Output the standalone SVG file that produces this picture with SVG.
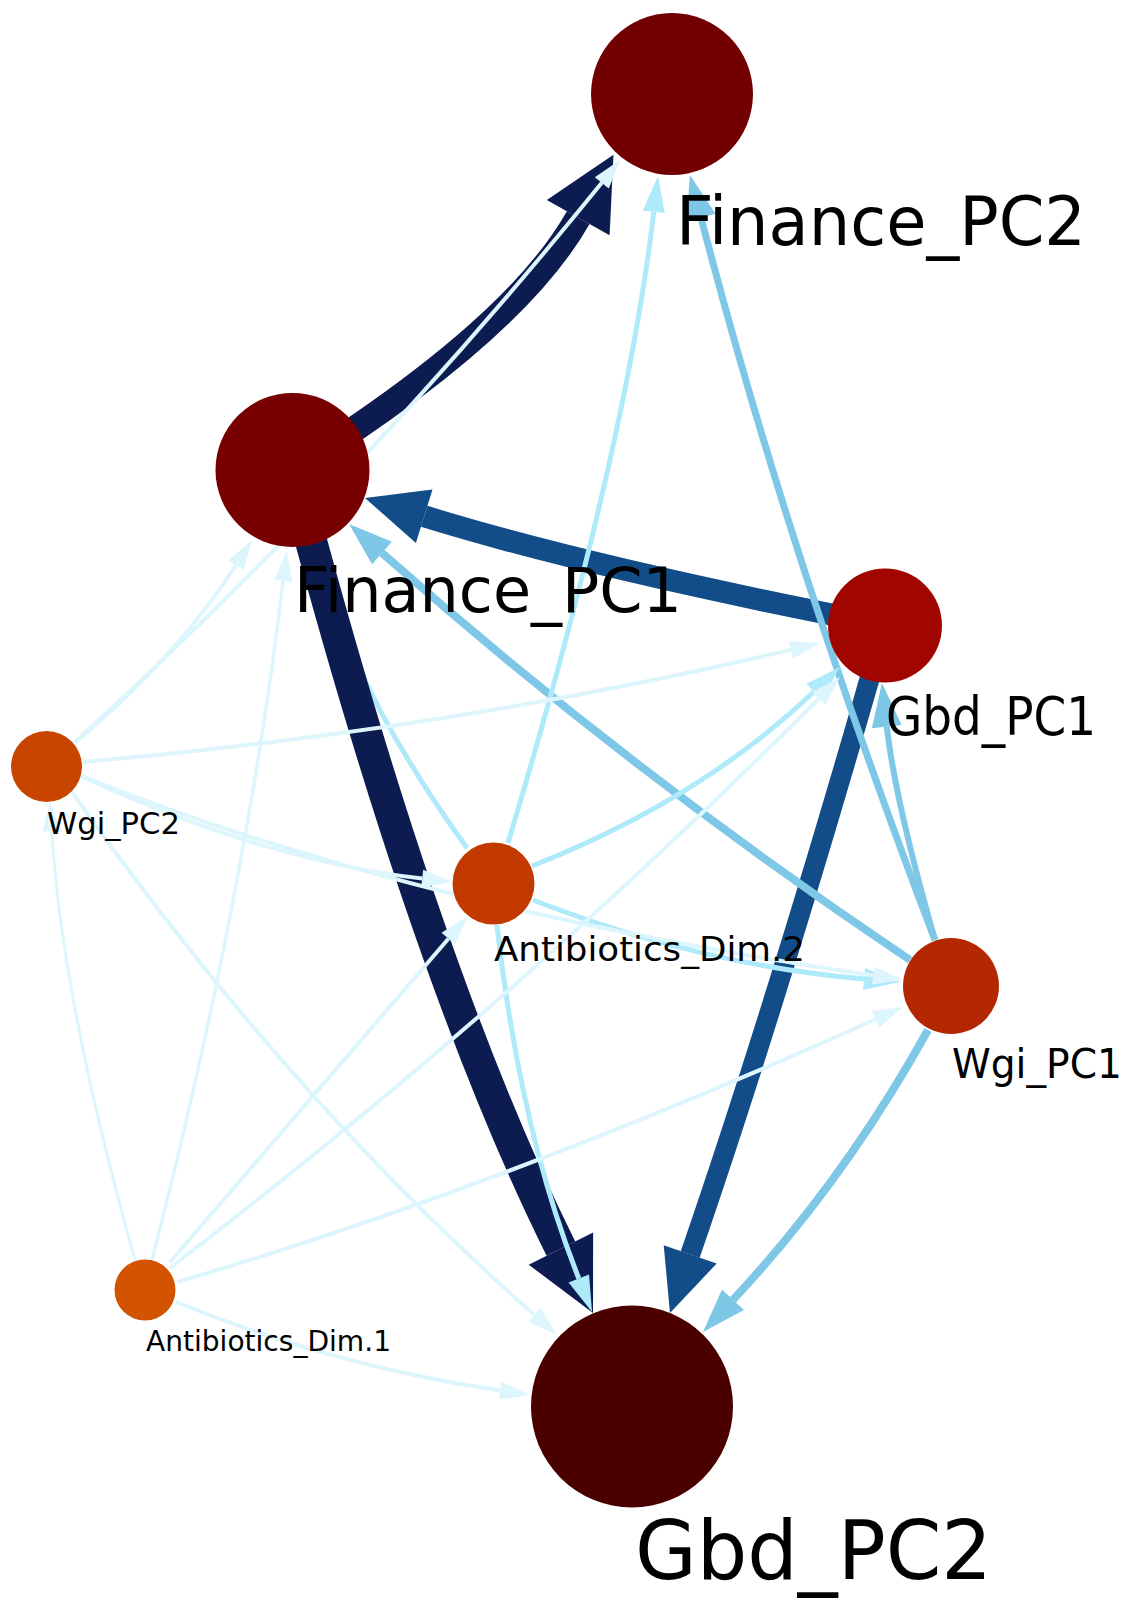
<svg xmlns="http://www.w3.org/2000/svg" width="1131" height="1600" viewBox="0 0 1131 1600">
<style>
.e{fill:none;stroke-linecap:butt}
.navy{stroke:#0c1b50}
.dark{stroke:#134d89}
.med{stroke:#7ec7e6}
.lc{stroke:#aeeaf9}
.vl{stroke:#ddf5fc}
.lbl{font-family:"DejaVu Sans","Liberation Sans",sans-serif;fill:#000}
</style>
<defs>
<marker id="m-navy" markerUnits="userSpaceOnUse" markerWidth="72" markerHeight="72" refX="0" refY="36" orient="auto" overflow="visible"><path d="M0,0 L72,36 L0,72 z" fill="#0c1b50"/></marker>
<marker id="m-dark" markerUnits="userSpaceOnUse" markerWidth="62" markerHeight="56" refX="0" refY="28" orient="auto" overflow="visible"><path d="M0,0 L62,28 L0,56 z" fill="#134d89"/></marker>
<marker id="m-med" markerUnits="userSpaceOnUse" markerWidth="44" markerHeight="30" refX="0" refY="15" orient="auto" overflow="visible"><path d="M0,0 L44,15 L0,30 z" fill="#7ec7e6"/></marker>
<marker id="m-lc" markerUnits="userSpaceOnUse" markerWidth="36" markerHeight="22" refX="0" refY="11" orient="auto" overflow="visible"><path d="M0,0 L36,11 L0,22 z" fill="#aeeaf9"/></marker>
<marker id="m-vl" markerUnits="userSpaceOnUse" markerWidth="30" markerHeight="18" refX="0" refY="9" orient="auto" overflow="visible"><path d="M0,0 L30,9 L0,18 z" fill="#ddf5fc"/></marker>
</defs>
<rect width="1131" height="1600" fill="#ffffff"/>
<g id="edges">
<path id="e-AD2-FP1" class="e lc" stroke-width="5" marker-end="url(#m-lc)" d="M467,848 Q360,700 325.8,578.6"/>
<path id="e-FP1-FP2" class="e navy" stroke-width="26" marker-end="url(#m-navy)" d="M292,470 Q515,330 578.2,217.6"/>
<path id="e-FP1-GP2" class="e navy" stroke-width="32" marker-end="url(#m-navy)" d="M292,470 Q425,976 560.9,1248.6"/>
<path id="e-GP1-FP1" class="e dark" stroke-width="22" marker-end="url(#m-dark)" d="M885,625 Q591,568 424.2,516.3"/>
<path id="e-GP1-GP2" class="e dark" stroke-width="20" marker-end="url(#m-dark)" d="M885,625 Q778,1000 690.2,1254.4"/>
<path id="e-WP1-FP2" class="e med" stroke-width="7" marker-end="url(#m-med)" d="M935,940 Q790,560 701,217.6"/>
<path id="e-WP1-FP1" class="e med" stroke-width="8" marker-end="url(#m-med)" d="M910,960 Q630,772 382,553"/>
<path id="e-WP1-GP2" class="e med" stroke-width="8" marker-end="url(#m-med)" d="M928,1030 Q845,1180 733,1299.8"/>
<path id="e-WP1-GP1" class="e med" stroke-width="6" marker-end="url(#m-med)" d="M935,940 Q895,800 886.8,726.7"/>
<path id="e-AD2-FP2" class="e lc" stroke-width="5" marker-end="url(#m-lc)" d="M508,843 Q626,450 653.8,211.8"/>
<path id="e-AD2-GP2" class="e lc" stroke-width="5" marker-end="url(#m-lc)" d="M497,925 Q520,1130 578.8,1278.5"/>
<path id="e-AD2-WP1" class="e lc" stroke-width="5" marker-end="url(#m-lc)" d="M533,900 Q700,965 864,979"/>
<path id="e-AD2-GP1" class="e lc" stroke-width="5" marker-end="url(#m-lc)" d="M532,866 Q700,800 813.9,691.8"/>
<path id="e-WP2-FP2" class="e vl" stroke-width="4" marker-end="url(#m-vl)" d="M47,767 Q345,500 601.8,182.8"/>
<path id="e-WP2-FP1" class="e vl" stroke-width="4" marker-end="url(#m-vl)" d="M72,745 Q175,660 236,565"/>
<path id="e-WP2-GP1" class="e vl" stroke-width="4" marker-end="url(#m-vl)" d="M83,762 Q450,730 790.8,649.9"/>
<path id="e-WP2-AD2" class="e vl" stroke-width="4" marker-end="url(#m-vl)" d="M80,776 Q266,861 422.2,878.6"/>
<path id="e-WP2-WP1" class="e vl" stroke-width="4" marker-end="url(#m-vl)" d="M82,776 Q400,905 873.3,975.6"/>
<path id="e-WP2-GP2" class="e vl" stroke-width="4" marker-end="url(#m-vl)" d="M72,792 Q285,1095 534.5,1315"/>
<path id="e-AD1-WP2" class="e vl" stroke-width="3" marker-end="url(#m-vl)" d="M135,1260 Q62,1000 51.7,831"/>
<path id="e-AD1-FP1" class="e vl" stroke-width="3.5" marker-end="url(#m-vl)" d="M152,1260 Q245,900 283.2,580.8"/>
<path id="e-AD1-GP1" class="e vl" stroke-width="4" marker-end="url(#m-vl)" d="M170,1268 Q520,1000 818.9,698.3"/>
<path id="e-AD1-AD2" class="e vl" stroke-width="4" marker-end="url(#m-vl)" d="M170,1262 Q319,1089 448.4,938.7"/>
<path id="e-AD1-WP1" class="e vl" stroke-width="4" marker-end="url(#m-vl)" d="M177,1282 Q500,1188 875.6,1019.3"/>
<path id="e-AD1-GP2" class="e vl" stroke-width="4" marker-end="url(#m-vl)" d="M176,1302 Q330,1365 500.3,1390.6"/>
</g>
<g id="node-Finance_PC2">
<circle cx="672" cy="94" r="81" fill="#720000"/>
<text class="lbl" x="676" y="245" font-size="67" textLength="410" lengthAdjust="spacingAndGlyphs">Finance_PC2</text>
</g>
<g id="node-Finance_PC1">
<circle cx="292.5" cy="470" r="77" fill="#790000"/>
<text class="lbl" x="294" y="612" font-size="63" textLength="388" lengthAdjust="spacingAndGlyphs">Finance_PC1</text>
</g>
<g id="node-Gbd_PC1">
<circle cx="885" cy="625.5" r="57" fill="#a10500"/>
<text class="lbl" x="886" y="735" font-size="53" textLength="210" lengthAdjust="spacingAndGlyphs">Gbd_PC1</text>
</g>
<g id="node-Wgi_PC2">
<circle cx="46.5" cy="766.5" r="35.5" fill="#c84500"/>
<text class="lbl" x="47" y="834" font-size="30" textLength="133" lengthAdjust="spacingAndGlyphs">Wgi_PC2</text>
</g>
<g id="node-Antibiotics_Dim.2">
<circle cx="493.5" cy="883.5" r="41" fill="#c23a00"/>
<text class="lbl" x="494" y="961" font-size="34" textLength="311" lengthAdjust="spacingAndGlyphs">Antibiotics_Dim.2</text>
</g>
<g id="node-Wgi_PC1">
<circle cx="951" cy="986" r="48" fill="#b32800"/>
<text class="lbl" x="952" y="1078" font-size="41" textLength="170" lengthAdjust="spacingAndGlyphs">Wgi_PC1</text>
</g>
<g id="node-Antibiotics_Dim.1">
<circle cx="145" cy="1290" r="30.5" fill="#d25300"/>
<text class="lbl" x="146" y="1351" font-size="29" textLength="245" lengthAdjust="spacingAndGlyphs">Antibiotics_Dim.1</text>
</g>
<g id="node-Gbd_PC2">
<circle cx="632" cy="1406.5" r="101" fill="#4b0000"/>
<text class="lbl" x="635" y="1579" font-size="82" textLength="357" lengthAdjust="spacingAndGlyphs">Gbd_PC2</text>
</g>
</svg>
